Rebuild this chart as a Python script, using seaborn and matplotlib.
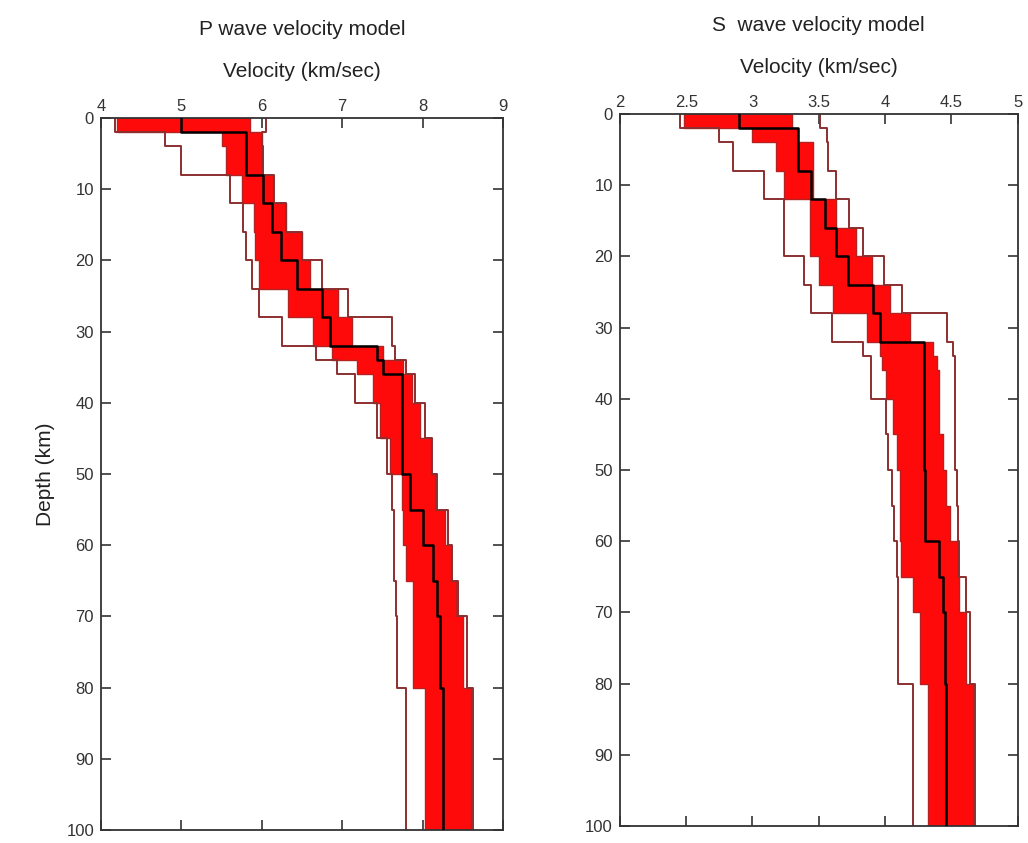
import numpy as np
import pandas as pd
import matplotlib
matplotlib.use("Agg")
import matplotlib.pyplot as plt
import seaborn as sns

sns.set_theme(style="white")
plt.rcParams['font.family'] = ['Liberation Sans', 'DejaVu Sans']

# layer boundaries (km)
depth_bounds = [0, 2, 4, 8, 12, 16, 20, 24, 28, 32, 34, 36, 40, 45, 50, 55, 60, 65, 70, 80, 100]

# P wave models (km/s), one value per layer
p_mean = [5.0, 5.8, 5.8, 6.02, 6.13, 6.24, 6.44, 6.75, 6.85, 7.43, 7.51, 7.74, 7.74, 7.74, 7.85, 8.0, 8.13, 8.18, 8.22, 8.26]
p_min = [4.17, 4.8, 5.0, 5.6, 5.77, 5.8, 5.88, 5.96, 6.25, 6.68, 6.94, 7.16, 7.43, 7.56, 7.62, 7.64, 7.65, 7.67, 7.68, 7.79]
p_max = [6.05, 6.0, 6.02, 6.15, 6.3, 6.5, 6.75, 7.07, 7.62, 7.66, 7.79, 7.91, 8.03, 8.12, 8.18, 8.32, 8.37, 8.44, 8.55, 8.63]
p_lo = [4.2, 5.5, 5.55, 5.75, 5.9, 5.92, 5.96, 6.33, 6.64, 6.87, 7.19, 7.39, 7.47, 7.6, 7.74, 7.76, 7.8, 7.88, 7.88, 8.03]
p_hi = [5.85, 6.0, 6.0, 6.14, 6.3, 6.5, 6.6, 6.95, 7.12, 7.51, 7.76, 7.87, 7.97, 8.1, 8.16, 8.28, 8.35, 8.42, 8.5, 8.6]

# S wave models (km/s)
s_mean = [2.9, 3.34, 3.34, 3.44, 3.55, 3.63, 3.72, 3.91, 3.96, 4.29, 4.29, 4.29, 4.29, 4.29, 4.3, 4.3, 4.41, 4.44, 4.45, 4.46]
s_min = [2.45, 2.75, 2.85, 3.09, 3.24, 3.24, 3.39, 3.44, 3.6, 3.83, 3.89, 3.89, 4.01, 4.02, 4.05, 4.07, 4.09, 4.1, 4.1, 4.21]
s_max = [3.51, 3.56, 3.57, 3.63, 3.73, 3.83, 3.99, 4.13, 4.47, 4.51, 4.53, 4.53, 4.53, 4.53, 4.54, 4.55, 4.56, 4.61, 4.64, 4.68]
s_lo = [2.48, 3.0, 3.18, 3.24, 3.43, 3.43, 3.5, 3.61, 3.86, 3.96, 3.98, 4.01, 4.06, 4.09, 4.11, 4.11, 4.12, 4.21, 4.26, 4.32]
s_hi = [3.3, 3.34, 3.46, 3.46, 3.63, 3.78, 3.9, 4.04, 4.19, 4.36, 4.39, 4.41, 4.41, 4.44, 4.46, 4.49, 4.55, 4.56, 4.61, 4.66]

p_xticks = [4, 5, 6, 7, 8, 9]
s_xticks = [2, 2.5, 3, 3.5, 4, 4.5, 5]
s_xticklabels = ['2', '2.5', '3', '3.5', '4', '4.5', '5']
y_ticks = [0, 10, 20, 30, 40, 50, 60, 70, 80, 90, 100]

RED = '#ff0a0a'
OUTLINE = '#8c2f2f'


def steps(vals):
    xs, ys = [], []
    for i, v in enumerate(vals):
        xs += [v, v]
        ys += [depth_bounds[i], depth_bounds[i + 1]]
    return xs, ys


def draw(ax, lo, hi, vmin, vmax, mean):
    xl, yl = steps(lo)
    xh, _ = steps(hi)
    ax.fill_betweenx(yl, xl, xh, color=RED, lw=0, zorder=1)
    rows = []
    for name, vals in [('min', vmin), ('max', vmax), ('lo', lo), ('hi', hi), ('mean', mean)]:
        xs, ys = steps(vals)
        for k, (x, y) in enumerate(zip(xs, ys)):
            rows.append(dict(model=name, order=k, v=x, depth=y))
    df = pd.DataFrame(rows)
    sns.lineplot(data=df[df.model.isin(['lo', 'hi'])], x='v', y='depth', hue='model',
                 palette={'lo': '#b52020', 'hi': '#b52020'}, estimator=None,
                 sort=False, legend=False, ax=ax, lw=1.0, zorder=2)
    sns.lineplot(data=df[df.model.isin(['min', 'max'])], x='v', y='depth', hue='model',
                 palette={'min': OUTLINE, 'max': OUTLINE}, estimator=None,
                 sort=False, legend=False, ax=ax, lw=1.4, zorder=2)
    sns.lineplot(data=df[df.model == 'mean'], x='v', y='depth', color='black',
                 estimator=None, sort=False, legend=False, ax=ax, lw=1.8, zorder=3)


fig = plt.figure(figsize=(10.28, 8.43), dpi=100)
ax1 = fig.add_axes([0.0982, 0.0154, 0.391, 0.8446])
ax2 = fig.add_axes([0.603, 0.0202, 0.387, 0.8446])

draw(ax1, p_lo, p_hi, p_min, p_max, p_mean)
draw(ax2, s_lo, s_hi, s_min, s_max, s_mean)

for ax, xlim, xt, xtl, title in [
        (ax1, (4, 9), p_xticks, [str(t) for t in p_xticks], 'P wave velocity model'),
        (ax2, (2, 5), s_xticks, s_xticklabels, 'S  wave velocity model')]:
    ax.set_xlim(*xlim)
    ax.set_ylim(100, 0)
    ax.set_xticks(xt)
    ax.set_xticklabels(xtl)
    ax.set_yticks(y_ticks)
    ax.xaxis.set_label_position('top')
    ax.set_xlabel('Velocity (km/sec)', fontsize=15, labelpad=16, color='#222222')
    ax.set_ylabel('')
    ax.tick_params(axis='x', top=True, bottom=True, labeltop=True, labelbottom=False,
                   direction='in', length=7, width=1.2, labelsize=12, pad=3, colors='#333333')
    ax.tick_params(axis='y', left=True, right=True, labelleft=True, labelright=False,
                   direction='in', length=7, width=1.2, labelsize=12, pad=5, colors='#333333')
    for s in ax.spines.values():
        s.set_color('#333333')
        s.set_linewidth(1.3)
        s.set_visible(True)
    ax.set_title(title, fontsize=15, pad=19, color='#222222')

ax1.set_ylabel('Depth (km)', fontsize=15, labelpad=8, color='#222222')

fig.savefig('out.png', dpi=100)
